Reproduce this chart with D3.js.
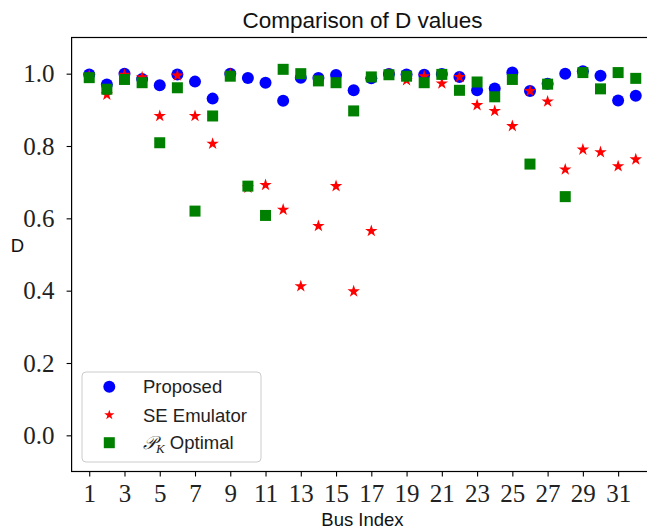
<!DOCTYPE html>
<html><head><meta charset="utf-8">
<script src="https://cdn.jsdelivr.net/npm/d3@7"></script>
<style>body{margin:0;background:#fff}svg{display:block}</style>
</head><body>
<svg id="chart" width="647" height="531"></svg>
<script>
const busIndex = d3.range(1, 33);
const xTickLabels = [1,3,5,7,9,11,13,15,17,19,21,23,25,27,29,31];
const yTickLabels = [0.0,0.2,0.4,0.6,0.8,1.0];
const proposed = [0.998,0.970,1.000,0.985,0.968,0.998,0.978,0.931,1.000,0.988,0.975,0.925,0.989,0.988,0.996,0.954,0.987,0.999,0.998,0.997,0.999,0.991,0.954,0.959,1.003,0.952,0.972,1.000,1.007,0.994,0.926,0.939];
const seEmulator = [0.995,0.942,0.997,0.990,0.883,0.995,0.883,0.806,0.998,0.685,0.692,0.624,0.412,0.579,0.689,0.398,0.565,0.998,0.982,0.993,0.973,0.991,0.913,0.897,0.855,0.952,0.923,0.735,0.790,0.783,0.744,0.763];
const pkOptimal = [0.989,0.957,0.984,0.975,0.809,0.961,0.620,0.883,0.993,0.689,0.608,1.012,1.000,0.980,0.975,0.897,0.991,0.997,0.993,0.975,0.998,0.954,0.977,0.936,0.984,0.750,0.971,0.660,1.003,0.958,1.003,0.987];

const svg = d3.select("#chart");
const L = 71.6, R = 71.6 + 33*17.63, T = 37.5, B = 471.5;
const x = d3.scaleLinear().domain([0, 33]).range([L, R]);
const y = d3.scaleLinear().domain([-0.1, 1.1]).range([B, T]);
const serif = "'Liberation Serif', 'DejaVu Serif', serif";
const sans = "'Liberation Sans', Arial, sans-serif";

// markers
const star = d3.symbol().type(d3.symbolStar).size(48);
const g = svg.append("g");
g.selectAll("circle.p").data(busIndex).join("circle")
  .attr("cx", d => x(d)).attr("cy", (d,i) => y(proposed[i])).attr("r", 6).attr("fill", "#0000ff");
g.selectAll("path.s").data(busIndex).join("path")
  .attr("d", star).attr("transform", (d,i) => `translate(${x(d)},${y(seEmulator[i])})`).attr("fill", "#ff0000");
g.selectAll("rect.k").data(busIndex).join("rect")
  .attr("x", d => x(d) - 5.5).attr("y", (d,i) => y(pkOptimal[i]) - 5.5)
  .attr("width", 11).attr("height", 11).attr("fill", "#008000");

// axes
const xAxis = svg.append("g").attr("transform", `translate(0,${B})`)
  .call(d3.axisBottom(x).tickValues(xTickLabels).tickFormat(d3.format("d")).tickSize(5).tickPadding(6));
const yAxis = svg.append("g").attr("transform", `translate(${L},0)`)
  .call(d3.axisLeft(y).tickValues(yTickLabels).tickFormat(d3.format(".1f")).tickSize(5).tickPadding(12));
[xAxis, yAxis].forEach(a => {
  a.select(".domain").remove();
  a.selectAll(".tick line").attr("stroke", "#000").attr("stroke-width", 1.1);
  a.selectAll(".tick text").attr("font-family", serif).attr("font-size", 25).attr("fill", "#222");
});
xAxis.selectAll(".tick text").attr("dy", "0.78em");

// spines
svg.append("rect").attr("x", L).attr("y", T).attr("width", R - L).attr("height", B - T)
  .attr("fill", "none").attr("stroke", "#000").attr("stroke-width", 1.2);

// title & labels
svg.append("text").attr("x", (L+R)/2).attr("y", 28).attr("text-anchor", "middle")
  .attr("font-family", sans).attr("font-size", 22.5).attr("fill", "#111").text("Comparison of D values");
svg.append("text").attr("x", (L+R)/2).attr("y", 526).attr("text-anchor", "middle")
  .attr("font-family", sans).attr("font-size", 18.5).attr("fill", "#111").text("Bus Index");
svg.append("text").attr("x", 17.5).attr("y", 252).attr("text-anchor", "middle")
  .attr("font-family", sans).attr("font-size", 18.5).attr("fill", "#111").text("D");

// legend
const leg = svg.append("g");
leg.append("rect").attr("x", 82).attr("y", 372).attr("width", 179).attr("height", 90).attr("rx", 4)
  .attr("fill", "#fff").attr("fill-opacity", 0.8).attr("stroke", "#cccccc").attr("stroke-width", 1);
const rows = [386.7, 415, 442.7];
leg.append("circle").attr("cx", 109.3).attr("cy", rows[0]).attr("r", 6).attr("fill", "#0000ff");
leg.append("path").attr("d", d3.symbol().type(d3.symbolStar).size(32)()).attr("transform", `translate(109.3,${rows[1]})`).attr("fill", "#ff0000");
leg.append("rect").attr("x", 109.3-5.5).attr("y", rows[2]-5.5).attr("width", 11).attr("height", 11).attr("fill", "#008000");
const lt = (yy) => leg.append("text").attr("x", 143).attr("y", yy + 6.5).attr("font-family", sans).attr("font-size", 18.5).attr("fill", "#222");
lt(rows[0]).text("Proposed");
lt(rows[1]).text("SE Emulator");
const t3 = lt(rows[2]);
t3.append("tspan").attr("font-family", "'DejaVu Serif', serif").attr("font-style", "italic").text("\u{1D4AB}");
t3.append("tspan").attr("font-family", serif).attr("font-style", "italic").attr("font-size", 13).attr("dy", 4).text("K");
t3.append("tspan").attr("dy", -4).text(" Optimal");
</script>
</body></html>
